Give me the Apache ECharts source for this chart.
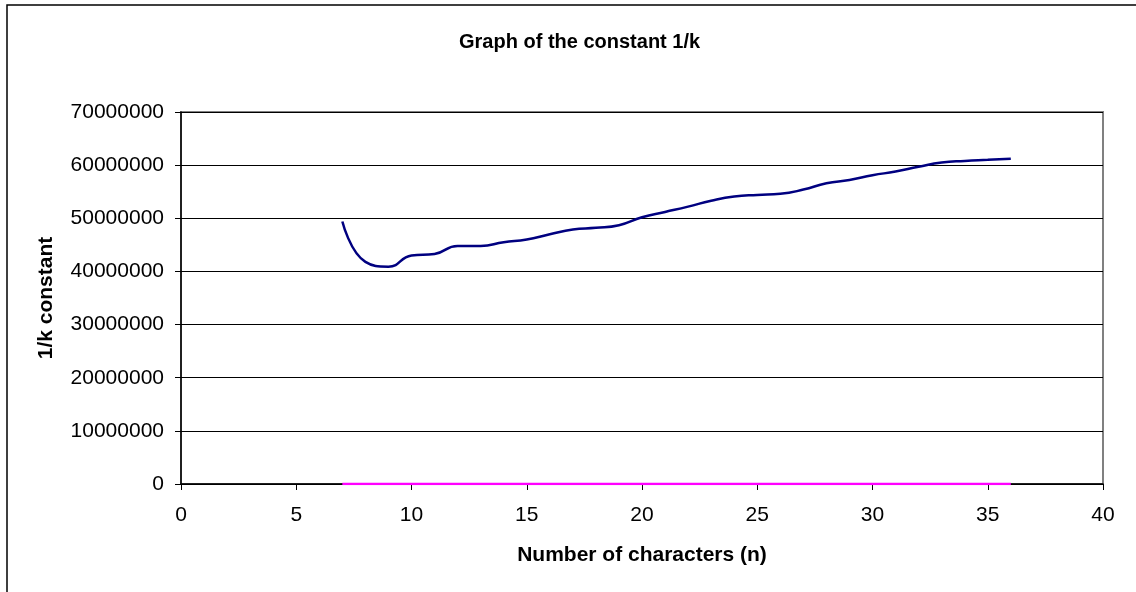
<!DOCTYPE html>
<html>
<head>
<meta charset="utf-8">
<script src="https://cdn.jsdelivr.net/npm/echarts@6/dist/echarts.min.js"></script>
<style>
  html, body { margin: 0; padding: 0; background: #fff; }
  #chart { width: 1136px; height: 592px; }
</style>
</head>
<body>
<div id="chart"></div>
<script>
// Number of characters n
var nValues = [7, 8, 9, 10, 11, 12, 13, 14, 15, 16, 17, 18, 19, 20, 21,
               22, 23, 24, 25, 26, 27, 28, 29, 30, 31, 32, 33, 34, 35, 36];
// 1/k constant for each n
var invK = [49400000, 41800000, 40900000, 43000000, 43300000, 44800000, 44800000,
            45500000, 46000000, 47000000, 47900000, 48200000, 48700000, 50200000,
            51200000, 52200000, 53300000, 54100000, 54400000, 54600000, 55400000,
            56600000, 57200000, 58100000, 58800000, 59700000, 60500000, 60800000,
            61000000, 61200000];
// Companion series lying on zero
var baseline = [0, 0, 0, 0, 0, 0, 0, 0, 0, 0, 0, 0, 0, 0, 0,
                0, 0, 0, 0, 0, 0, 0, 0, 0, 0, 0, 0, 0, 0, 0];

var FONT = 'Liberation Sans, Arial, sans-serif';

function pairs(xs, ys) {
  return xs.map(function (x, i) { return [x, ys[i]]; });
}

var chart = echarts.init(document.getElementById('chart'));
chart.setOption({
  animation: false,
  backgroundColor: '#ffffff',
  title: {
    text: 'Graph of the constant 1/k',
    left: 454,
    top: 27,
    textStyle: { fontFamily: FONT, fontSize: 20, fontWeight: 'bold', color: '#000' }
  },
  graphic: [{
    type: 'rect',
    shape: { x: 7, y: 5, width: 1140, height: 600 },
    style: { fill: 'none', stroke: '#000', lineWidth: 1.5 },
    silent: true,
    z: -1
  }],
  grid: {
    left: 181, right: 33, top: 112, bottom: 108,
    show: true, borderColor: '#808080', borderWidth: 2, backgroundColor: '#fff'
  },
  xAxis: {
    type: 'value',
    min: 0, max: 40, interval: 5,
    name: 'Number of characters (n)',
    nameLocation: 'middle',
    nameGap: 61,
    nameTextStyle: { fontFamily: FONT, fontSize: 21, fontWeight: 'bold', color: '#000' },
    axisLine: { onZero: false, lineStyle: { color: '#000', width: 1.5 } },
    axisTick: { show: true, inside: false, length: 6, lineStyle: { color: '#000' } },
    axisLabel: { fontFamily: FONT, fontSize: 21, color: '#000', margin: 21 },
    splitLine: { show: false }
  },
  yAxis: {
    type: 'value',
    min: 0, max: 70000000, interval: 10000000,
    name: '1/k constant',
    nameLocation: 'middle',
    nameGap: 124,
    nameRotate: 90,
    nameTextStyle: { fontFamily: FONT, fontSize: 21, fontWeight: 'bold', color: '#000' },
    axisLine: { show: true, lineStyle: { color: '#000', width: 1.5 } },
    axisTick: { show: true, inside: false, length: 6, lineStyle: { color: '#000' } },
    axisLabel: {
      fontFamily: FONT, fontSize: 21, color: '#000', margin: 17,
      formatter: function (v) { return String(v); }
    },
    splitLine: { show: true, lineStyle: { color: '#000', width: 1 } }
  },
  series: [{
    type: 'line',
    data: pairs(nValues, invK),
    smooth: 0.5,
    showSymbol: false,
    lineStyle: { color: '#000080', width: 2.5 },
    z: 3
  }, {
    type: 'line',
    data: pairs(nValues, baseline),
    showSymbol: false,
    lineStyle: { color: '#ff00ff', width: 2.5 },
    z: 4
  }]
});
</script>
</body>
</html>
